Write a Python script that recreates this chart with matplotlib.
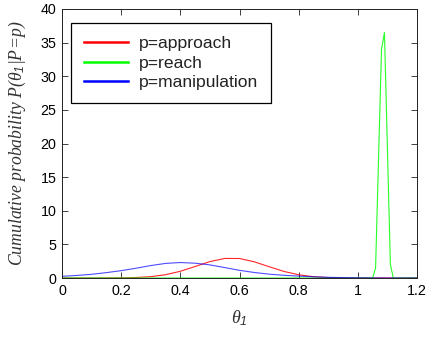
import matplotlib
matplotlib.use("Agg")
import matplotlib.pyplot as plt
from matplotlib.lines import Line2D

# ---- data ----
x_grid = [0.00, 0.05, 0.10, 0.15, 0.20, 0.25, 0.30, 0.35, 0.40, 0.45, 0.50,
          0.55, 0.60, 0.65, 0.70, 0.75, 0.80, 0.85, 0.90, 0.95, 1.00, 1.05,
          1.10, 1.15, 1.20]
approach = [0.00, 0.00, 0.00, 0.01, 0.02, 0.07, 0.20, 0.49, 1.00, 1.71, 2.44,
            2.91, 2.90, 2.41, 1.68, 0.98, 0.48, 0.19, 0.07, 0.02, 0.00, 0.00,
            0.00, 0.00, 0.00]
manipulation = [0.25, 0.38, 0.55, 0.80, 1.09, 1.45, 1.85, 2.17, 2.30, 2.20, 1.95,
                1.55, 1.14, 0.82, 0.57, 0.40, 0.28, 0.18, 0.10, 0.06, 0.03, 0.01,
                0.00, 0.00, 0.00]
reach_x = [0.00, 1.05, 1.06, 1.08, 1.09, 1.11, 1.12, 1.20]
reach_y = [0.00, 0.00, 1.5, 34.0, 36.5, 2.0, 0.00, 0.00]

labels = ["p=approach", "p=reach", "p=manipulation"]
colors = ["#ff0000", "#00ff00", "#0000ff"]
x_ticks = [0, 0.2, 0.4, 0.6, 0.8, 1.0, 1.2]
x_tick_labels = ["0", "0.2", "0.4", "0.6", "0.8", "1", "1.2"]
y_ticks = [0, 5, 10, 15, 20, 25, 30, 35, 40]

plt.rcParams['font.family'] = ['Liberation Sans', 'DejaVu Sans']
plt.rcParams['mathtext.fontset'] = 'custom'
plt.rcParams['mathtext.it'] = 'Liberation Serif:italic'
plt.rcParams['mathtext.rm'] = 'Liberation Serif:italic'
plt.rcParams['mathtext.sf'] = 'Liberation Sans:italic'

fig = plt.figure(figsize=(4.29, 3.39), dpi=100)
ax = fig.add_axes([62/429, 1-278/339, (417-62)/429, (278-9)/339])

ax.plot(x_grid, approach, color=colors[0], lw=0.8, alpha=0.85)
ax.plot(reach_x, reach_y, color=colors[1], lw=0.8, alpha=0.85)
ax.plot(x_grid, manipulation, color=colors[2], lw=0.8, alpha=0.7)

ax.set_xlim(0, 1.2)
ax.set_ylim(0, 40)
ax.set_xticks(x_ticks)
ax.set_xticklabels(x_tick_labels)
ax.set_yticks(y_ticks)
ax.tick_params(direction='in', length=4, width=0.6, top=True, right=True,
               labelsize=10.3, pad=4, colors='#222222', labelcolor='black')
for s in ax.spines.values():
    s.set_linewidth(0.7)
    s.set_color('#222222')

ax.set_ylabel(r'Cumulative probability $P(\theta_{\mathsf{1}}|P\!=\!p)$',
              family=['Liberation Serif', 'DejaVu Serif'], style='italic',
              fontsize=12.7, labelpad=9, color='#333333')
ax.set_xlabel(r'$\theta_{\mathsf{1}}$', fontsize=13, labelpad=8, color='#333333')

handles = [Line2D([0], [0], color=c, lw=1.8) for c in colors]
leg = ax.legend(handles, labels, loc='upper left', bbox_to_anchor=(9/355, 1-14.3/269),
                borderaxespad=0, frameon=True, fancybox=False, fontsize=12.6,
                handlelength=2.55, handletextpad=0.62, labelspacing=0.25,
                borderpad=0.72)
leg.get_frame().set_edgecolor('black')
leg.get_frame().set_linewidth(0.9)
leg.get_frame().set_alpha(1)
for t in leg.get_texts():
    t.set_color('#222222')

fig.savefig("out.png", dpi=100)
